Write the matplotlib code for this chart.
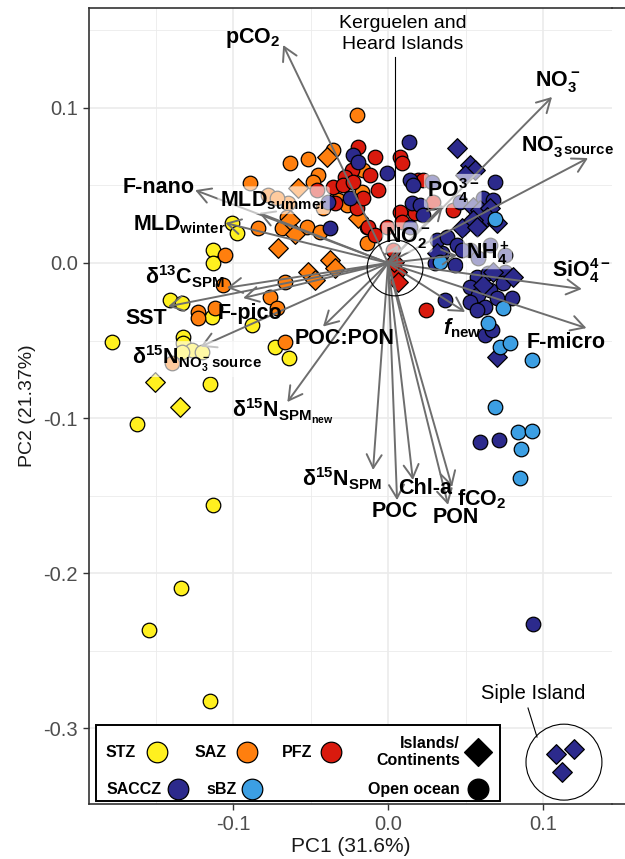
import numpy as np
import matplotlib
matplotlib.use("Agg")
import matplotlib.pyplot as plt
from matplotlib.patches import Circle, Rectangle, FancyArrowPatch
from matplotlib.lines import Line2D

plt.rcParams['font.family'] = ['Liberation Sans', 'DejaVu Sans']
plt.rcParams['mathtext.fontset'] = 'custom'
plt.rcParams['mathtext.bf'] = 'Liberation Sans:bold'
plt.rcParams['mathtext.rm'] = 'Liberation Sans:bold'
plt.rcParams['mathtext.it'] = 'Liberation Sans:bold:italic'
plt.rcParams['mathtext.default'] = 'bf'

# --- sample scores (PC1, PC2) by zone; island = True for island/continent stations ---
stz_x = [-0.1006, -0.0974, -0.1129, -0.1129, -0.1406, -0.1329, -0.1135, -0.0877, -0.1781, -0.1323,
         -0.1323, -0.1265, -0.1200, -0.1329, -0.0729, -0.0639, -0.1148, -0.1619, -0.1129, -0.1335,
         -0.1542, -0.1148, -0.1503, -0.1342]
stz_y = [0.0258, 0.0194, 0.0084, 0.0, -0.0239, -0.0258, -0.0348, -0.0400, -0.0510, -0.0477,
         -0.0516, -0.0561, -0.0574, -0.0574, -0.0542, -0.0613, -0.0781, -0.1039, -0.1561, -0.2097,
         -0.2368, -0.2826, -0.0768, -0.0929]
stz_island = [False] * 22 + [True] * 2

saz_x = [-0.0200, -0.0355, -0.0632, -0.0516, -0.0452, -0.0484, -0.0645, -0.0419, -0.0652, -0.0839,
         -0.0684, -0.0523, -0.0439, -0.1052, -0.1065, -0.0665, -0.0761, -0.0716, -0.1226, -0.1116,
         -0.1226, -0.0665, -0.0161, -0.0168, -0.0323, -0.0265, -0.0135, -0.0135, -0.0890, -0.0774,
         -0.0716, -0.1394,
         -0.0394, -0.0632, -0.0600, -0.0710, -0.0374, -0.0342, -0.0516, -0.0471, -0.0194, -0.0581]
saz_y = [0.0955, 0.0729, 0.0645, 0.0671, 0.0568, 0.0523, 0.0387, 0.0355, 0.0297, 0.0226,
         0.0226, 0.0232, 0.0200, 0.0052, -0.0142, -0.0123, -0.0219, -0.0290, -0.0316, -0.0290,
         -0.0355, -0.0510, 0.0600, 0.0458, 0.0406, 0.0374, 0.0232, 0.0129, 0.0516, 0.0439,
         0.0419, -0.0645,
         0.0684, 0.0277, 0.0187, 0.0097, 0.0019, -0.0032, -0.0058, -0.0110, 0.0290, 0.0484]
saz_island = [False] * 32 + [True] * 10

pfz_x = [-0.0194, -0.0232, -0.0277, -0.0355, -0.0290, -0.0226, -0.0342, -0.0200, -0.0161, -0.0084,
         0.0077, 0.0090, -0.0065, -0.0129, -0.0084, 0.0194, 0.0226, 0.0077, 0.0174, 0.0419,
         0.0245, -0.0116, -0.0006, 0.0032, 0.0090, -0.0458, 0.0290,
         0.0058, 0.0065, 0.0039]
pfz_y = [0.0748, 0.0600, 0.0555, 0.0490, 0.0503, 0.0523, 0.0387, 0.0355, 0.0419, 0.0684,
         0.0684, 0.0645, 0.0471, 0.0232, 0.0181, 0.0535, 0.0535, 0.0329, 0.0323, 0.0342,
         -0.0303, 0.0568, 0.0232, 0.0084, 0.0265, 0.0471, 0.0394,
         -0.0058, -0.0123, 0.0006]
pfz_island = [False] * 27 + [True] * 3

saccz_x = [0.0135, -0.0006, -0.0226, -0.0194, -0.0245, -0.0387, -0.0374, 0.0142, 0.0161, 0.0690,
           0.0155, 0.0206, 0.0226, 0.0613, 0.0677, 0.0316, 0.0381, 0.0348, 0.0445, 0.0432,
           0.0574, 0.0645, 0.0755, 0.0529, 0.0581, 0.0658, 0.0742, 0.0800, 0.0703, 0.0626,
           0.0529, 0.0574, 0.0626, 0.0671, 0.0368, 0.0594, 0.0716, 0.0935, 0.0529, 0.0755,
           0.0658, 0.0142, 0.0284, 0.0465, 0.0477, 0.0581, 0.0303,
           0.0445, 0.0529, 0.0561, 0.0497, 0.0548, 0.0594, 0.0658, 0.0639, 0.0548, 0.0703,
           0.0477, 0.0574, 0.0677, 0.0806, 0.0703, 0.0316, 0.0613, 0.1084, 0.1200, 0.1123]
saccz_y = [0.0781, 0.0581, 0.0697, 0.0652, 0.0419, 0.0394, 0.0226, 0.0535, 0.0503, 0.0523,
           0.0387, 0.0374, 0.0310, 0.0419, 0.0406, 0.0148, 0.0168, 0.0065, 0.0116, -0.0013,
           -0.0090, -0.0065, -0.0058, -0.0155, -0.0206, -0.0174, -0.0129, -0.0226, -0.0226, -0.0284,
           -0.0252, -0.0303, -0.0465, -0.0432, -0.0239, -0.1155, -0.1142, -0.2329, 0.0084, 0.0052,
           0.0116, 0.0232, 0.0523, 0.0394, 0.0084, 0.0032, 0.0,
           0.0742, 0.0632, 0.0600, 0.0568, 0.0361, 0.0342, 0.0355, 0.0297, 0.0277, 0.0258,
           0.0226, 0.0232, -0.0058, -0.0090, -0.0606, 0.0065, -0.0142, -0.3168, -0.3135, -0.3284]
saccz_island = [False] * 47 + [True] * 20

sbz_x = [0.0690, 0.0335, 0.0742, 0.0645, 0.0723, 0.0787, 0.0929, 0.0690, 0.0839, 0.0929, 0.0858, 0.0852]
sbz_y = [0.0284, 0.0006, -0.0290, -0.0387, -0.0542, -0.0516, -0.0626, -0.0929, -0.1090, -0.1084, -0.1200, -0.1387]
sbz_island = [False] * 12

zones = ["STZ", "SAZ", "PFZ", "SACCZ", "sBZ"]
zone_colors = {"STZ": "#FFF01F", "SAZ": "#FF7F0E", "PFZ": "#D91A0E", "SACCZ": "#2C2A8C", "sBZ": "#3C9FE3"}
zone_data = {"STZ": (stz_x, stz_y, stz_island), "SAZ": (saz_x, saz_y, saz_island),
             "PFZ": (pfz_x, pfz_y, pfz_island), "SACCZ": (saccz_x, saccz_y, saccz_island),
             "sBZ": (sbz_x, sbz_y, sbz_island)}

# --- variable loadings (arrow tips) ---
var_x = [-0.0677, 0.1058, 0.1290, 0.0355, 0.0445, 0.1250, 0.1280, 0.0497, 0.0065,
         -0.1245, -0.0832, -0.1050, -0.1040, -0.1420, -0.0935, -0.1210, -0.0420, -0.0650,
         -0.0097, 0.0058, 0.0160, 0.0387, 0.0413]
var_y = [0.1406, 0.1071, 0.0677, 0.0374, 0.0050, -0.0168, -0.0420, -0.0316, 0.0116,
         0.0470, 0.0323, 0.0258, -0.0160, -0.0280, -0.0226, -0.0540, -0.0410, -0.0897,
         -0.1335, -0.1530, -0.1400, -0.1560, -0.1445]

# label text, anchor x, anchor y, horizontal alignment, translucent box
var_labels = [
    (r'p$CO_2$', -0.0877, 0.1450, 'center', False),
    (r'$NO_3^-$', 0.0945, 0.1170, 'left', False),
    (r'$NO_3^{-}{}_{source}$', 0.0860, 0.0750, 'left', False),
    (r'$PO_4^{3-}$', 0.0248, 0.0465, 'left', True),
    (r'$NH_4^+$', 0.0500, 0.0065, 'left', True),
    (r'$SiO_4^{4-}$', 0.1055, -0.0050, 'left', False),
    ('F-micro', 0.0897, -0.0516, 'left', False),
    (r'$\mathit{f}_{new}$', 0.0355, -0.0420, 'left', False),
    (r'$NO_2^-$', -0.0022, 0.0165, 'left', True),
    ('F-nano', -0.1716, 0.0490, 'left', False),
    (r'MLD$_{summer}$', -0.1084, 0.0405, 'left', True),
    (r'MLD$_{winter}$', -0.1645, 0.0245, 'left', False),
    (r'$\delta^{13}C_{SPM}$', -0.1568, -0.0090, 'left', False),
    ('SST', -0.1697, -0.0355, 'left', False),
    ('F-pico', -0.1103, -0.0323, 'left', False),
    (r'$\delta^{15}N_{NO_3^-source}$', -0.1652, -0.0620, 'left', True),
    ('POC:PON', -0.0600, -0.0484, 'left', False),
    (r'$\delta^{15}N_{SPM_{new}}$', -0.1006, -0.0960, 'left', False),
    (r'$\delta^{15}N_{SPM}$', -0.0555, -0.1395, 'left', False),
    ('Chl-a', 0.0065, -0.1452, 'left', False),
    ('POC', -0.0103, -0.1606, 'left', False),
    (r'f$CO_2$', 0.0445, -0.1525, 'left', False),
    ('PON', 0.0290, -0.1645, 'left', False),
]

fig = plt.figure(figsize=(6.25, 8.59), dpi=100)
ax = fig.add_axes([89 / 625, 55 / 859, 523 / 625, 796 / 859])
ax.set_xlim(-0.193, 0.1445)
ax.set_ylim(-0.349, 0.1645)

ax.set_xticks([-0.1, 0.0, 0.1], ["-0.1", "0.0", "0.1"])
ax.set_xticks([-0.15, -0.05, 0.05], minor=True)
ax.set_yticks([-0.3, -0.2, -0.1, 0.0, 0.1], ["-0.3", "-0.2", "-0.1", "0.0", "0.1"])
ax.set_yticks([-0.25, -0.15, -0.05, 0.05, 0.15], minor=True)
ax.grid(which='major', color='#EBEBEB', lw=1.2)
ax.grid(which='minor', color='#EBEBEB', lw=0.6)
ax.set_axisbelow(True)
ax.tick_params(which='major', length=4, width=1, color='#333333', labelsize=14.5,
               labelcolor='#4D4D4D', pad=4)
ax.tick_params(which='minor', length=0)
for side in ['top', 'bottom', 'left']:
    ax.spines[side].set_color('#333333')
    ax.spines[side].set_linewidth(1.2)
ax.spines['right'].set_visible(False)
for yy in [804, 8]:
    fig.add_artist(Line2D([612 / 625, 1.0], [1 - yy / 859] * 2, color='#333333', lw=1.2))

ax.set_xlabel("PC1 (31.6%)", fontsize=15, color='#1a1a1a', labelpad=2)
ax.set_ylabel("PC2 (21.37%)", fontsize=14, color='#1a1a1a', labelpad=5)

# points
for z in zones:
    xs, ys, isl = zone_data[z]
    xs, ys, isl = np.array(xs), np.array(ys), np.array(isl)
    ax.scatter(xs[~isl], ys[~isl], s=110, marker='o', c=zone_colors[z],
               edgecolors='black', linewidths=0.9, zorder=3)
    ax.scatter(xs[isl], ys[isl], s=100, marker='D', c=zone_colors[z],
               edgecolors='black', linewidths=0.9, zorder=3)

# loading arrows
for vx, vy in zip(var_x, var_y):
    ax.add_patch(FancyArrowPatch((0, 0), (vx, vy), arrowstyle='->,head_length=0.8,head_width=0.45',
                                 mutation_scale=12, color='#6E6E6E', lw=1.4,
                                 shrinkA=0, shrinkB=0, zorder=4))

for txt, lx, ly, ha, boxed in var_labels:
    kw = {}
    if boxed:
        kw['bbox'] = dict(boxstyle='round,pad=0.12', fc='white', ec='none', alpha=0.6)
    ax.text(lx, ly, txt, ha=ha, va='center', fontsize=15.5, fontweight='bold', color='black',
            zorder=5, **kw)

# Kerguelen / Heard annotation
ax.add_patch(Circle((0.0045, -0.0032), 0.018, fill=False, ec='black', lw=0.8, zorder=5))
ax.plot([0.0045, 0.0045], [0.1329, 0.0148], color='black', lw=0.8, zorder=5)
ax.text(0.0097, 0.1477, "Kerguelen and\nHeard Islands", ha='center', va='center',
        fontsize=14, linespacing=1.25, zorder=5)

# Siple Island annotation
ax.add_patch(Circle((0.1135, -0.322), 0.0245, fill=False, ec='black', lw=0.8, zorder=5))
ax.plot([0.0903, 0.0961], [-0.2871, -0.3058], color='black', lw=0.8, zorder=5)
ax.text(0.0935, -0.278, "Siple Island", ha='center', va='center', fontsize=14.5, zorder=5)

# legend box
ax.add_patch(Rectangle((0.0134, 0.0038), 0.7726, 0.0954, transform=ax.transAxes,
                       fc='white', ec='black', lw=1.4, zorder=6))
leg_items = [("STZ", 0.0899, 0.130, 0.0653), ("SAZ", 0.2639, 0.302, 0.0653),
             ("PFZ", 0.4264, 0.4627, 0.0653), ("SACCZ", 0.1396, 0.1702, 0.0188),
             ("sBZ", 0.283, 0.3117, 0.0188)]
for name, tx, mx, my in leg_items:
    ax.text(tx, my, name, transform=ax.transAxes, ha='right', va='center',
            fontsize=11.5, fontweight='bold', zorder=7)
    ax.scatter([mx], [my], s=220, marker='o', c=zone_colors[name], edgecolors='black',
               linewidths=0.9, transform=ax.transAxes, zorder=7, clip_on=False)
ax.text(0.7094, 0.0653, "Islands/\nContinents", transform=ax.transAxes, ha='right', va='center',
        fontsize=11.5, fontweight='bold', linespacing=1.2, multialignment='right', zorder=7)
ax.scatter([0.7438], [0.0653], s=200, marker='D', c='black', transform=ax.transAxes, zorder=7)
ax.text(0.7094, 0.0188, "Open ocean", transform=ax.transAxes, ha='right', va='center',
        fontsize=11.5, fontweight='bold', zorder=7)
ax.scatter([0.7438], [0.0188], s=220, marker='o', c='black', transform=ax.transAxes, zorder=7)

fig.savefig("out.png", dpi=100)
